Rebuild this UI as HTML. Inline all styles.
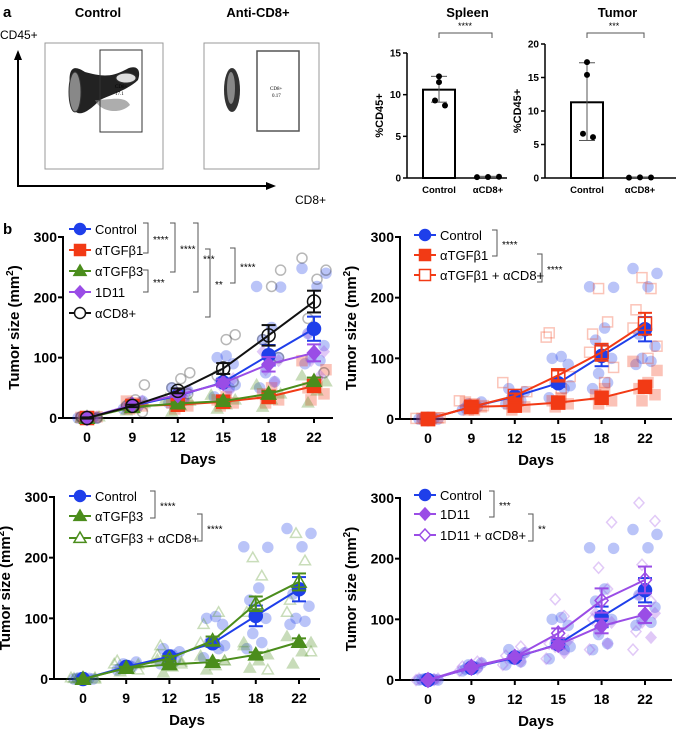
<!DOCTYPE html>
<html><head><meta charset="utf-8"><style>
body{margin:0;background:#fff;width:676px;height:729px;overflow:hidden}
svg{display:block;font-family:"Liberation Sans",Arial,sans-serif}
</style></head><body>
<svg id="fig" width="676" height="729" viewBox="0 0 676 729">
<g>
<text x="3" y="17" font-size="15" font-weight="bold">a</text>
<text x="98" y="17" font-size="13" font-weight="bold" text-anchor="middle">Control</text>
<text x="258" y="17" font-size="13" font-weight="bold" text-anchor="middle">Anti-CD8+</text>
<text x="0" y="39" font-size="12">CD45+</text>
<text x="295" y="204" font-size="12">CD8+</text>
<line x1="18" y1="186" x2="18" y2="58" stroke="#000" stroke-width="2"/>
<polygon points="18,50 14,60 22,60" fill="#000"/>
<line x1="17" y1="186" x2="268" y2="186" stroke="#000" stroke-width="2"/>
<polygon points="276,186 266,182 266,190" fill="#000"/>
<g>
<rect x="45" y="43" width="118" height="126" fill="#fff" stroke="#999"/>
<path d="M74,110 C65,70 70,62 85,72 C100,76 110,78 125,70 C135,64 142,68 138,80 C128,90 110,95 100,100 C90,110 80,118 74,110Z" fill="#222"/>
<path d="M95,100 C110,100 125,95 130,105 C120,115 100,112 95,100Z" fill="#777" opacity="0.6"/>
<ellipse cx="75" cy="92" rx="6" ry="20" fill="#888" stroke="#333"/>
<ellipse cx="126" cy="78" rx="10" ry="5" fill="#ddd" stroke="#333"/>
<rect x="100" y="50" width="42" height="82" fill="none" stroke="#333"/>
<text x="115" y="88" font-size="5" font-family="Liberation Serif">CD8+</text>
<text x="115" y="95" font-size="5" font-family="Liberation Serif">17.1</text>
</g>
<g>
<rect x="204" y="43" width="115" height="126" fill="#fff" stroke="#999"/>
<ellipse cx="232" cy="90" rx="8" ry="22" fill="#333"/>
<ellipse cx="231" cy="88" rx="4" ry="16" fill="#888"/>
<rect x="257" y="51" width="42" height="80" fill="none" stroke="#555" stroke-width="1.5"/>
<text x="270" y="90" font-size="5" font-family="Liberation Serif">CD8+</text>
<text x="272" y="97" font-size="5" font-family="Liberation Serif">0.17</text>
</g>
</g>
<g id="bars"></g>
<text x="3" y="234" font-size="15" font-weight="bold">b</text>
<g id="plots"></g>
</svg>
<script>
// ---- Bar chart data (panel a) ----
const barCats=["Control","αCD8+"];
const spleenMeans=[10.6,0.12];
const spleenLow=[9.1,0.05];
const spleenHigh=[12.2,0.2];
const spleenPts=[[12.2,11.5,9.3,8.7],[0.1,0.12,0.15]];
const tumorMeans=[11.3,0.1];
const tumorLow=[5.6,0.05];
const tumorHigh=[17.2,0.15];
const tumorPts=[[17.3,15.4,6.6,6.1],[0.05,0.1,0.08]];
const spleenTicks=[0,5,10,15];
const tumorTicks=[0,5,10,15,20];

// ---- Tumor growth data (panel b) ----
const days=["0","9","12","15","18","22"];
const yTicks=[0,100,200,300];
const ctrlMean=[0,20,37,59,104,148];
const ctrlErr=[1,3,4,6,17,20];
const ctrlPts=[[0,1,2,0,1],[15,20,25,28,18,22],[25,30,35,45,50,40],[35,50,60,90,100,103,55],[50,60,75,100,130,150,217,218],[90,95,100,120,140,218,240,248]];
const tgfb1Mean=[0,20,22,27,35,53];
const tgfb1Err=[1,2,2,3,4,6];
const tgfb1Pts=[[0,2,1],[15,20,28,25],[15,20,25,30],[20,25,30,35],[25,30,40,50],[30,40,50,60,80,95]];
const tgfb3Mean=[0,18,24,28,40,61];
const tgfb3Err=[1,2,2,3,4,6];
const tgfb3Pts=[[0,1,2],[12,18,24],[10,20,28,32],[15,22,30,38],[18,30,40,55],[25,45,60,70]];
const d11Mean=[0,22,38,58,89,108];
const d11Err=[1,2,3,6,12,14];
const d11Pts=[[0,1,2],[18,22,28],[30,38,45],[45,55,65],[60,80,95,110],[70,95,110,140]];
const cd8Mean=[0,20,45,82,137,193];
const cd8Err=[1,2,4,9,17,18];
const cd8Pts=[[0,2,1],[10,20,30,55],[40,50,65,75],[60,70,130,138],[100,130,218,245],[75,165,230,245,265]];
const tgfb1cd8Mean=[0,20,38,72,110,157];
const tgfb1cd8Err=[1,2,4,8,14,18];
const tgfb1cd8Pts=[[0,2,1],[15,22,30],[30,45,60],[50,70,135,142],[60,85,110,140,160,215],[100,120,150,180,215,233]];
const tgfb3cd8Mean=[0,18,34,63,124,160];
const tgfb3cd8Err=[1,2,4,7,12,14];
const tgfb3cd8Pts=[[0,2,1],[15,25,30],[25,40,55],[30,60,90,110],[15,60,110,170,200],[45,110,130,195,240]];
const d11cd8Mean=[0,20,38,77,131,165];
const d11cd8Err=[1,2,3,8,20,22];
const d11cd8Pts=[[0,2,1],[15,22,30],[25,40,55],[35,60,105,133],[50,100,150,185,260],[50,80,130,190,262,292]];

const NS="http://www.w3.org/2000/svg";
function mk(parent,tag,attrs){const e=document.createElementNS(NS,tag);for(const k in attrs)e.setAttribute(k,attrs[k]);parent.appendChild(e);return e;}
function txt(parent,x,y,s,attrs){const e=mk(parent,"text",Object.assign({x:x,y:y},attrs||{}));e.textContent=s;return e;}

const barsG=document.getElementById("bars");
function barChart(title,ax,y0,yTop,maxV,ticks,means,lo,hi,pts,centers,axEnd,nm){
  const g=mk(barsG,"g",{});
  
  
  const ys=v=>y0-(v/maxV)*(y0-yTop);
  const t=txt(g,(centers[0]+centers[1])/2+4,17,title,{"font-size":13,"font-weight":"bold","text-anchor":"middle"});
  
  
  mk(g,"line",{x1:ax,y1:yTop,x2:ax,y2:y0,stroke:"#000","stroke-width":1.5});
  mk(g,"line",{x1:ax,y1:y0,x2:axEnd,y2:y0,stroke:"#000","stroke-width":1.5});
  ticks.forEach(v=>{mk(g,"line",{x1:ax-4,y1:ys(v),x2:ax,y2:ys(v),stroke:"#000","stroke-width":1.5});
    txt(g,ax-6,ys(v)+3.5,String(v),{"font-size":10,"font-weight":"bold","text-anchor":"end"});});
  const yl=txt(g,0,0,"%CD45+",{"font-size":11,"font-weight":"bold","text-anchor":"middle",transform:`translate(${ax-24},${(y0+yTop)/2}) rotate(-90)`});
  
  
  barCats.forEach((c,i)=>{
    const cx=centers[i];
    if(means[i]>0.5){const b=mk(g,"rect",{x:cx-16,y:ys(means[i]),width:32,height:y0-ys(means[i]),fill:"#fff",stroke:"#000","stroke-width":2});
      
      }
    mk(g,"line",{x1:cx,y1:ys(lo[i]),x2:cx,y2:ys(hi[i]),stroke:"#555","stroke-width":1});
    [lo[i],hi[i]].forEach(v=>mk(g,"line",{x1:cx-8,y1:ys(v),x2:cx+8,y2:ys(v),stroke:"#555","stroke-width":1}));
    pts[i].forEach((v,j)=>{const off=i==0?(j%2?6:-4):(j-1)*11;mk(g,"circle",{cx:cx+(i==0&&j<2?0:off),cy:ys(v),r:3,fill:"#000"});});
    txt(g,cx,y0+15,c,{"font-size":9.5,"font-weight":"bold","text-anchor":"middle"});
  });
  mk(g,"path",{d:`M${centers[0]} 38 V33 H${centers[1]+4} V38`,fill:"none",stroke:"#555"});
}
barChart("Spleen",407,178,53,15,spleenTicks,spleenMeans,spleenLow,spleenHigh,spleenPts,[439,488],507,"spleen-bar-chart");
txt(barsG,465,29,"****",{"font-size":9,"text-anchor":"middle"});
barChart("Tumor",545,178,44,20,tumorTicks,tumorMeans,tumorLow,tumorHigh,tumorPts,[587,640],676,"tumor-bar-chart");
txt(barsG,614,29,"***",{"font-size":9,"text-anchor":"middle"});

const plotsG=document.getElementById("plots");
const COL={blue:"#1f3fea",red:"#f23a15",green:"#4b8d1c",purple:"#9a4de6",black:"#111"};
function marker(g,shape,x,y,s,fill,stroke,op){
  let e;const a={fill:fill,stroke:stroke,"stroke-width":1.5,opacity:op};
  if(shape=="circle")e=mk(g,"circle",Object.assign({cx:x,cy:y,r:s},a));
  else if(shape=="square")e=mk(g,"rect",Object.assign({x:x-s,y:y-s,width:2*s,height:2*s},a));
  else if(shape=="tri")e=mk(g,"polygon",Object.assign({points:`${x},${y-s*1.1} ${x-s*1.1},${y+s*0.8} ${x+s*1.1},${y+s*0.8}`},a));
  else e=mk(g,"polygon",Object.assign({points:`${x},${y-s*1.1} ${x+s},${y} ${x},${y+s*1.1} ${x-s},${y}`},a));
  return e;
}
const jit=[-9,6,-3,10,-6,3,12,-12];
function panel(p){
  const g=mk(plotsG,"g",{});
  
  
  const xs=i=>p.x0+i*p.step, ys=v=>p.y0-(v/300)*(p.y0-p.y300);
  mk(g,"line",{x1:p.ax,y1:p.y300-1,x2:p.ax,y2:p.y0,stroke:"#000","stroke-width":2});
  mk(g,"line",{x1:p.ax-1,y1:p.y0,x2:p.axEnd,y2:p.y0,stroke:"#000","stroke-width":2});
  yTicks.forEach(v=>{mk(g,"line",{x1:p.ax-5,y1:ys(v),x2:p.ax,y2:ys(v),stroke:"#000","stroke-width":2});
    const t=txt(g,p.ax-6,ys(v)+5,String(v),{"font-size":14,"font-weight":"bold","text-anchor":"end"});
    
    });
  days.forEach((d,i)=>{mk(g,"line",{x1:xs(i),y1:p.y0,x2:xs(i),y2:p.y0+5,stroke:"#000","stroke-width":2});
    const t=txt(g,xs(i),p.y0+24,d,{"font-size":14,"font-weight":"bold","text-anchor":"middle"});
    
    });
  const xt=txt(g,(p.ax+p.axEnd)/2,p.y0+46,"Days",{"font-size":15,"font-weight":"bold","text-anchor":"middle"});
  
  
  const yt=mk(g,"text",{"font-size":15,"font-weight":"bold","text-anchor":"middle",transform:`translate(${p.ax-44},${(p.y0+p.y300)/2}) rotate(-90)`});
  yt.innerHTML='Tumor size (mm<tspan font-size="10" dy="-6">2</tspan><tspan dy="6">)</tspan>';
  
  
  p.series.forEach(s=>{s.pts.forEach((arr,i)=>arr.forEach((v,j)=>{
    const m=marker(g,s.shape,xs(i)+jit[(j+s.k)%8],ys(v),5,s.open?"none":s.col,s.col,0.3);
    
    }));});
  p.series.forEach(s=>{
    const l=mk(g,"path",{d:s.mean.map((v,i)=>(i?"L":"M")+xs(i)+" "+ys(v)).join(" "),fill:"none",stroke:s.col,"stroke-width":2});
    
    
    s.mean.forEach((v,i)=>{
      mk(g,"line",{x1:xs(i),y1:ys(v-s.err[i]),x2:xs(i),y2:ys(v+s.err[i]),stroke:s.col,"stroke-width":2});
      [v-s.err[i],v+s.err[i]].forEach(e=>mk(g,"line",{x1:xs(i)-7,y1:ys(e),x2:xs(i)+7,y2:ys(e),stroke:s.col,"stroke-width":2}));
      const m=marker(g,s.shape,xs(i),ys(v),6.5,s.open?"#fff":s.col,s.col,1);
      if(s.open)m.setAttribute("fill-opacity","0");
      
      
    });
  });
  p.series.forEach((s,i)=>{
    const y=p.legY[i];
    const lg=mk(g,"g",{});
    
    
    mk(lg,"line",{x1:p.legX-11,y1:y,x2:p.legX+11,y2:y,stroke:s.col,"stroke-width":2});
    marker(lg,s.shape,p.legX,y,5.5,s.open?"#fff":s.col,s.col,1);
    txt(lg,p.legX+15,y+5,s.label,{"font-size":13});
  });
  p.brackets.forEach(b=>{
    mk(g,"path",{d:`M${b[0]-5} ${b[1]} H${b[0]} V${b[2]} H${b[0]-5}`,fill:"none",stroke:"#555","stroke-width":1});
    txt(g,b[0]+5,(b[1]+b[2])/2+5,b[3],{"font-size":10});
  });
}
const S={
 ctrl:{id:"control",label:"Control",col:COL.blue,shape:"circle",mean:ctrlMean,err:ctrlErr,pts:ctrlPts,k:0},
 t1:{id:"atgfb1",label:"αTGFβ1",col:COL.red,shape:"square",mean:tgfb1Mean,err:tgfb1Err,pts:tgfb1Pts,k:2},
 t3:{id:"atgfb3",label:"αTGFβ3",col:COL.green,shape:"tri",mean:tgfb3Mean,err:tgfb3Err,pts:tgfb3Pts,k:4},
 d11:{id:"1d11",label:"1D11",col:COL.purple,shape:"diamond",mean:d11Mean,err:d11Err,pts:d11Pts,k:1},
 cd8:{id:"acd8",label:"αCD8+",col:COL.black,shape:"circle",open:true,mean:cd8Mean,err:cd8Err,pts:cd8Pts,k:3},
 t1c:{id:"atgfb1-acd8",label:"αTGFβ1 + αCD8+",col:COL.red,shape:"square",open:true,mean:tgfb1cd8Mean,err:tgfb1cd8Err,pts:tgfb1cd8Pts,k:5},
 t3c:{id:"atgfb3-acd8",label:"αTGFβ3 + αCD8+",col:COL.green,shape:"tri",open:true,mean:tgfb3cd8Mean,err:tgfb3cd8Err,pts:tgfb3cd8Pts,k:6},
 d11c:{id:"1d11-acd8",label:"1D11 + αCD8+",col:COL.purple,shape:"diamond",open:true,mean:d11cd8Mean,err:d11cd8Err,pts:d11cd8Pts,k:7}
};
panel({name:"growth-all-groups",ax:63,axEnd:333,x0:87,step:45.4,y0:418,y300:237,legX:80,legY:[229,250,271,292,313],
 series:[S.ctrl,S.t1,S.t3,S.d11,S.cd8],
 brackets:[[148,223,253,"****"],[175,223,272,"****"],[198,223,292,"***"],[148,270,292,"***"],[210,249,317,"**"],[235,248,283,"****"]]});
panel({name:"growth-atgfb1",ax:400,axEnd:672,x0:428,step:43.4,y0:419,y300:237,legX:425,legY:[235,255,275],
 series:[S.ctrl,S.t1,S.t1c],brackets:[[497,230,256,"****"],[542,254,282,"****"]]});
panel({name:"growth-atgfb3",ax:54,axEnd:320,x0:83,step:43.2,y0:679,y300:497,legX:80,legY:[496,516,538],
 series:[S.ctrl,S.t3,S.t3c],brackets:[[155,491,518,"****"],[202,514,541,"****"]]});
panel({name:"growth-1d11",ax:400,axEnd:672,x0:428,step:43.4,y0:680,y300:498,legX:425,legY:[495,514,535],
 series:[S.ctrl,S.d11,S.d11c],brackets:[[494,491,517,"***"],[533,514,541,"**"]]});
</script>
</body></html>
